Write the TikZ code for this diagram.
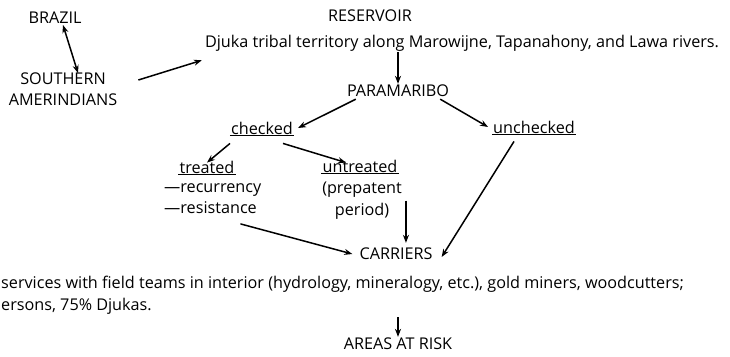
\documentclass[tikz,border=0pt]{standalone}
\usepackage{fontspec}
\setmainfont{Open Sans}
\usetikzlibrary{arrows.meta}

\begin{document}
\begin{tikzpicture}[x=1pt,y=-1pt,
        lbl/.style={inner sep=1pt, font=\fontsize{16.2}{21.5}\selectfont},
        arr/.style={-{Stealth[length=8pt,width=6pt]}, line width=1.5pt},
        uline/.style={line width=0.9pt}]

        \useasboundingbox (0,0) rectangle (730,356);

        %sources
        \node[lbl] (brazil) at (55,18) {BRAZIL};
        \node[lbl] (reservoir) at (370,16) {RESERVOIR};
        \node[lbl] (djuka) at (462,43) {Djuka tribal territory along Marowijne, Tapanahony, and Lawa rivers.};
        \node[lbl, align=center] (south) at (63,89) {SOUTHERN\\AMERINDIANS};

        %city and branches
        \node[lbl] (para) at (398,91) {PARAMARIBO};
        \node[lbl] (chk) at (262,128) {checked};
        \node[lbl] (unchk) at (534,127) {unchecked};
        \node[lbl] (trt) at (207,167) {treated};
        \node[lbl, align=left, anchor=north west] (trtnote) at (163,182) {---recurrency\\---resistance};
        \node[lbl] (untrt) at (360,166) {untreated};
        \node[lbl, align=center, anchor=north] (untrtnote) at (362,181) {(prepatent\\period)};

        %carriers
        \node[lbl] (carr) at (396,254) {CARRIERS};
        \node[lbl, align=left, anchor=north west] (carrnote) at (0,275) {services with field teams in interior (hydrology, mineralogy, etc.), gold miners, woodcutters;\\ersons, 75\% Djukas.};
        \node[lbl] (risk) at (398,344) {AREAS AT RISK};

        %underlines
        \draw[uline] (chk.south west) -- (chk.south east);
        \draw[uline] (unchk.south west) -- (unchk.south east);
        \draw[uline] (trt.south west) -- (trt.south east);
        \draw[uline] (untrt.south west) -- (untrt.south east);

        %arrows
        \draw[arr, {Stealth[length=8pt,width=6pt]}-{Stealth[length=8pt,width=6pt]}] ([xshift=8pt]brazil.south) -- ([xshift=15pt,yshift=-2pt]south.north);
        \draw[arr] ([xshift=20pt,yshift=9pt]south.east) -- ([xshift=-2pt,yshift=-8pt]djuka.south west);
        \draw[arr] (djuka.south -| para) -- (para.north);
        \draw[arr] ([xshift=10pt,yshift=-1pt]para.south west) -- ([xshift=4pt]chk.east);
        \draw[arr] ([xshift=-10pt,yshift=-1pt]para.south east) -- ([xshift=-4pt]unchk.west);
        \draw[arr] ([xshift=-32pt,yshift=-8pt]chk.south) -- ([yshift=-3pt]trt.north);
        \draw[arr] ([xshift=21pt,yshift=-8pt]chk.south) -- ([xshift=-14pt,yshift=-4pt]untrt.north);
        \draw[arr] ([xshift=3pt]untrtnote.east) -- ([xshift=3pt,yshift=4pt]untrtnote.east |- carr.north);
        \draw[arr] ([xshift=-22pt,yshift=-9pt]trtnote.south east) -- ([xshift=-6pt]carr.west);
        \draw[arr] ([xshift=-20pt,yshift=-7pt]unchk.south) -- ([xshift=8pt,yshift=-3pt]carr.east);
        \draw[arr] ([yshift=-2pt]carrnote.south -| risk) -- (risk.north);

\end{tikzpicture}
\end{document}
